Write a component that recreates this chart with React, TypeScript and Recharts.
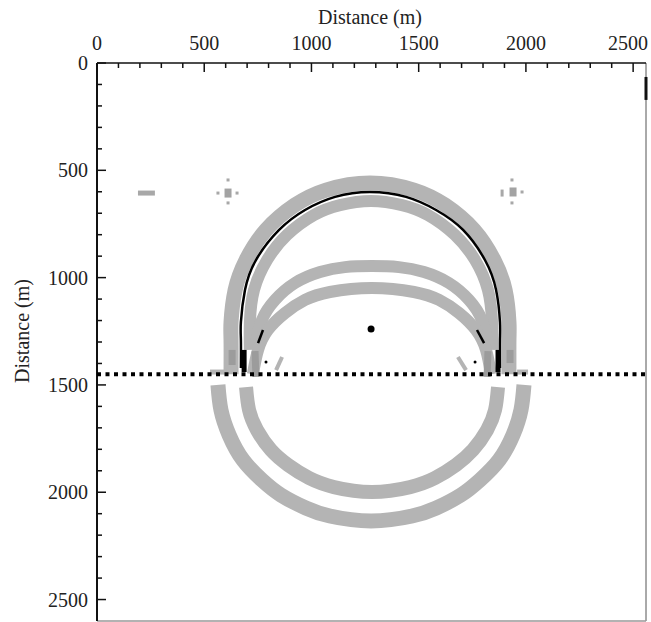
import { ReferenceLine, Scatter, ScatterChart, XAxis, YAxis } from "recharts";

type Pt = { x: number; y: number };

const serif = '"Liberation Serif", "Times New Roman", Times, serif';

// axis ticks (metres)
const xTicks = [0, 100, 200, 300, 400, 500, 600, 700, 800, 900, 1000, 1100, 1200, 1300, 1400, 1500, 1600, 1700, 1800, 1900, 2000, 2100, 2200, 2300, 2400, 2500];
const yTicks = [0, 100, 200, 300, 400, 500, 600, 700, 800, 900, 1000, 1100, 1200, 1300, 1400, 1500, 1600, 1700, 1800, 1900, 2000, 2100, 2200, 2300, 2400, 2500];
const labelledTicks = [0, 500, 1000, 1500, 2000, 2500];
const xDomain = [0, 2560];
const yDomain = [0, 2600];

const interfaceDepth = 1450;
const interfaceLine: Pt[] = [
  { x: 0, y: interfaceDepth },
  { x: 2560, y: interfaceDepth },
];
const source: Pt[] = [{ x: 1278, y: 1240 }];

// wavefronts above the interface
const upperOuterBand: Pt[] = [
  { x: 625, y: 1450 }, { x: 625, y: 1291 }, { x: 625, y: 1207 }, { x: 644, y: 1058 },
  { x: 695, y: 918 }, { x: 788, y: 778 }, { x: 923, y: 662 }, { x: 1068, y: 592 },
  { x: 1273, y: 559 }, { x: 1478, y: 592 }, { x: 1623, y: 662 }, { x: 1758, y: 778 },
  { x: 1851, y: 918 }, { x: 1903, y: 1058 }, { x: 1921, y: 1207 }, { x: 1921, y: 1291 },
  { x: 1921, y: 1450 },
];
const upperBlackFront: Pt[] = [
  { x: 671, y: 1421 }, { x: 671, y: 1291 }, { x: 671, y: 1207 }, { x: 690, y: 1058 },
  { x: 741, y: 918 }, { x: 849, y: 778 }, { x: 970, y: 685 }, { x: 1110, y: 624 },
  { x: 1273, y: 601 }, { x: 1441, y: 624 }, { x: 1581, y: 685 }, { x: 1707, y: 778 },
  { x: 1809, y: 918 }, { x: 1861, y: 1058 }, { x: 1879, y: 1207 }, { x: 1879, y: 1291 },
  { x: 1879, y: 1421 },
];
const upperInnerBand: Pt[] = [
  { x: 713, y: 1337 }, { x: 713, y: 1207 }, { x: 732, y: 1058 }, { x: 793, y: 918 },
  { x: 886, y: 801 }, { x: 1012, y: 708 }, { x: 1133, y: 662 }, { x: 1278, y: 643 },
  { x: 1422, y: 662 }, { x: 1543, y: 708 }, { x: 1669, y: 801 }, { x: 1763, y: 918 },
  { x: 1823, y: 1058 }, { x: 1842, y: 1207 }, { x: 1842, y: 1337 },
];
const headArcA: Pt[] = [
  { x: 737, y: 1323 }, { x: 769, y: 1198 }, { x: 830, y: 1104 }, { x: 923, y: 1025 },
  { x: 1040, y: 974 }, { x: 1156, y: 951 }, { x: 1282, y: 946 }, { x: 1408, y: 951 },
  { x: 1525, y: 974 }, { x: 1641, y: 1025 }, { x: 1735, y: 1104 }, { x: 1795, y: 1198 },
  { x: 1828, y: 1323 },
];
const headArcB: Pt[] = [
  { x: 727, y: 1450 }, { x: 751, y: 1337 }, { x: 797, y: 1244 }, { x: 877, y: 1165 },
  { x: 970, y: 1104 }, { x: 1086, y: 1067 }, { x: 1282, y: 1048 }, { x: 1478, y: 1067 },
  { x: 1595, y: 1104 }, { x: 1688, y: 1165 }, { x: 1767, y: 1244 }, { x: 1814, y: 1337 },
  { x: 1837, y: 1450 },
];

// wavefronts below the interface
const lowerOuterBand: Pt[] = [
  { x: 564, y: 1500 }, { x: 578, y: 1617 }, { x: 616, y: 1733 }, { x: 681, y: 1850 },
  { x: 769, y: 1943 }, { x: 858, y: 2013 }, { x: 975, y: 2074 }, { x: 1086, y: 2111 },
  { x: 1278, y: 2134 }, { x: 1469, y: 2111 }, { x: 1581, y: 2074 }, { x: 1697, y: 2013 },
  { x: 1786, y: 1943 }, { x: 1875, y: 1850 }, { x: 1940, y: 1733 }, { x: 1977, y: 1617 },
  { x: 1991, y: 1500 },
];
const lowerInnerBand: Pt[] = [
  { x: 695, y: 1510 }, { x: 709, y: 1617 }, { x: 746, y: 1710 }, { x: 811, y: 1803 },
  { x: 891, y: 1873 }, { x: 989, y: 1934 }, { x: 1105, y: 1976 }, { x: 1282, y: 1999 },
  { x: 1460, y: 1976 }, { x: 1576, y: 1934 }, { x: 1674, y: 1873 }, { x: 1753, y: 1803 },
  { x: 1819, y: 1710 }, { x: 1856, y: 1617 }, { x: 1870, y: 1510 },
];

// small pieces near the interface
const darkLeftOuter: Pt[] = [{ x: 630, y: 1337 }, { x: 630, y: 1407 }];
const darkLeftInner: Pt[] = [{ x: 737, y: 1342 }, { x: 741, y: 1463 }];
const darkRightInner: Pt[] = [{ x: 1823, y: 1342 }, { x: 1819, y: 1463 }];
const darkRightOuter: Pt[] = [{ x: 1926, y: 1337 }, { x: 1926, y: 1398 }];
const greyLeftEdge: Pt[] = [{ x: 527, y: 1440 }, { x: 606, y: 1440 }];
const greyRightEdge: Pt[] = [{ x: 1959, y: 1440 }, { x: 2010, y: 1440 }];
const greyLeftSmudge: Pt[] = [{ x: 863, y: 1370 }, { x: 835, y: 1431 }];
const greyRightSmudge: Pt[] = [{ x: 1683, y: 1370 }, { x: 1721, y: 1431 }];
const greyDash: Pt[] = [{ x: 191, y: 606 }, { x: 270, y: 606 }];
const blackLeftKnot: Pt[] = [{ x: 686, y: 1337 }, { x: 686, y: 1440 }];
const blackRightKnot: Pt[] = [{ x: 1870, y: 1337 }, { x: 1870, y: 1440 }];
const blackLeftTick: Pt[] = [{ x: 774, y: 1244 }, { x: 751, y: 1305 }];
const blackRightTick: Pt[] = [{ x: 1772, y: 1244 }, { x: 1805, y: 1305 }];
const blackSpecks: Pt[] = [{ x: 788, y: 1393 }, { x: 1763, y: 1393 }];
const speckBlobs: Pt[] = [{ x: 611, y: 606 }, { x: 1940, y: 601 }];
const speckDots: Pt[] = [
  { x: 611, y: 545 }, { x: 611, y: 652 }, { x: 564, y: 606 }, { x: 653, y: 606 },
  { x: 1935, y: 545 }, { x: 1935, y: 652 }, { x: 1982, y: 601 },
];
const speckBars: Pt[] = [{ x: 1889, y: 606 }];

const GREY = "#b4b4b4";
const DARK_GREY = "#9c9c9c";

const noDot = () => <g />;

function path(key: string, data: Pt[], stroke: string, width: number, dash?: string) {
  return (
    <Scatter
      key={key}
      data={data}
      fill="none"
      line={{ stroke, strokeWidth: width, strokeDasharray: dash, strokeLinecap: "butt" }}
      lineJointType="natural"
      shape={noDot}
      legendType="none"
      isAnimationActive={false}
    />
  );
}

const textStyle = { fontFamily: serif, fontSize: 20 };

function TopTick(props: any) {
  const { x, y, payload } = props;
  const v = payload.value;
  const major = labelledTicks.includes(v);
  // keep the last label inside the 651px frame
  const tx = Math.min(x, 628);
  return (
    <g>
      <line x1={x} x2={x} y1={y} y2={y + (major ? 9 : 5)} stroke="#111" strokeWidth={1.5} />
      {major && (
        <text x={tx} y={y - 13} textAnchor="middle" style={textStyle} fill="#222">
          {v}
        </text>
      )}
    </g>
  );
}

function LeftTick(props: any) {
  const { x, y, payload } = props;
  const v = payload.value;
  const major = labelledTicks.includes(v);
  return (
    <g>
      <line x1={x} x2={x + (major ? 9 : 5)} y1={y} y2={y} stroke="#111" strokeWidth={1.5} />
      {major && (
        <text x={x - 9} y={y + 7} textAnchor="end" style={textStyle} fill="#222">
          {v}
        </text>
      )}
    </g>
  );
}

export default function App() {
  return (
    <div style={{ position: "absolute", left: 0, top: 0, width: 651, height: 622, background: "#fff" }}>
      <ScatterChart width={651} height={622} margin={{ top: 0, right: 5, bottom: 1, left: 0 }}>
        <XAxis
          type="number"
          dataKey="x"
          orientation="top"
          domain={xDomain}
          allowDataOverflow
          ticks={xTicks}
          interval={0}
          height={63}
          tickSize={0}
          tickMargin={0}
          tickLine={false}
          axisLine={{ stroke: "#111", strokeWidth: 1.5 }}
          tick={(p: any) => <TopTick {...p} />}
          label={{
            content: () => (
              <text x={370} y={24} textAnchor="middle" style={textStyle} fill="#222">
                Distance (m)
              </text>
            ),
          }}
        />
        <YAxis
          type="number"
          dataKey="y"
          reversed
          domain={yDomain}
          allowDataOverflow
          ticks={yTicks}
          interval={0}
          width={97}
          tickSize={0}
          tickMargin={0}
          tickLine={false}
          axisLine={{ stroke: "#111", strokeWidth: 2 }}
          tick={(p: any) => <LeftTick {...p} />}
          label={{
            content: () => (
              <text x={-331} y={29} transform="rotate(-90)" textAnchor="middle" style={textStyle} fill="#222">
                Distance (m)
              </text>
            ),
          }}
        />
        <ReferenceLine x={2560} stroke="#555" strokeWidth={1} />
        <ReferenceLine y={2600} stroke="#999" strokeWidth={1.5} />
        <ReferenceLine segment={[{ x: 2560, y: 65 }, { x: 2560, y: 172 }]} stroke="#111" strokeWidth={3} />

        {path("upperOuter", upperOuterBand, GREY, 15)}
        {path("upperInner", upperInnerBand, GREY, 12)}
        {path("arcA", headArcA, GREY, 12)}
        {path("arcB", headArcB, GREY, 12)}
        {path("lowerOuter", lowerOuterBand, GREY, 15)}
        {path("lowerInner", lowerInnerBand, GREY, 14)}
        {path("greyLeftEdge", greyLeftEdge, GREY, 5)}
        {path("greyRightEdge", greyRightEdge, GREY, 5)}
        {path("greyLeftSmudge", greyLeftSmudge, GREY, 4)}
        {path("greyRightSmudge", greyRightSmudge, GREY, 4)}
        {path("greyDash", greyDash, "#a8a8a8", 5)}
        {[darkLeftOuter, darkLeftInner, darkRightInner, darkRightOuter].map((d, i) =>
          path(`dark${i}`, d, DARK_GREY, 7)
        )}
        {path("blackFront", upperBlackFront, "#000", 2.5)}
        {[blackLeftKnot, blackRightKnot].map((d, i) => path(`knot${i}`, d, "#000", 5))}
        {[blackLeftTick, blackRightTick].map((d, i) => path(`tick${i}`, d, "#000", 2.5))}
        {path("interface", interfaceLine, "#000", 4, "4 4.5")}

        <Scatter
          data={speckBlobs}
          isAnimationActive={false}
          legendType="none"
          shape={(p: any) => <rect x={p.cx - 3.5} y={p.cy - 4.5} width={7} height={9} fill="#a3a3a3" />}
        />
        <Scatter
          data={speckDots}
          isAnimationActive={false}
          legendType="none"
          shape={(p: any) => <rect x={p.cx - 1.5} y={p.cy - 1.5} width={3} height={3} fill="#a8a8a8" />}
        />
        <Scatter
          data={speckBars}
          isAnimationActive={false}
          legendType="none"
          shape={(p: any) => <rect x={p.cx - 1.5} y={p.cy - 3.5} width={3} height={7} fill="#a8a8a8" />}
        />
        <Scatter
          data={blackSpecks}
          isAnimationActive={false}
          legendType="none"
          shape={(p: any) => <circle cx={p.cx} cy={p.cy} r={1.5} fill="#000" />}
        />
        <Scatter
          data={source}
          isAnimationActive={false}
          legendType="none"
          shape={(p: any) => <circle cx={p.cx} cy={p.cy} r={3.5} fill="#000" />}
        />
      </ScatterChart>
    </div>
  );
}
